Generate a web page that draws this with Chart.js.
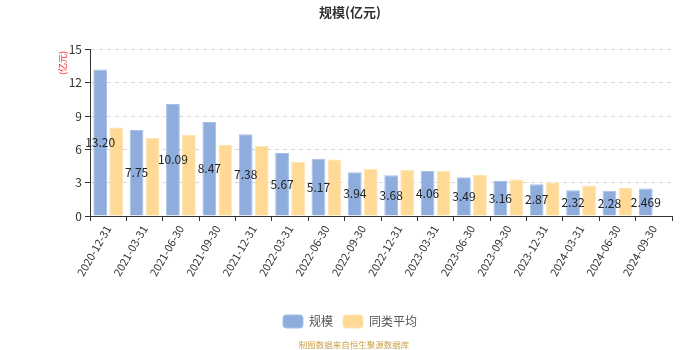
<!DOCTYPE html>
<html>
<head>
<meta charset="utf-8">
<script src="https://cdn.jsdelivr.net/npm/chart.js@4/dist/chart.umd.min.js"></script>
<style>
  body { margin: 0; background: #fff; }
  #wrap { width: 700px; height: 350px; }
</style>
</head>
<body>
<div id="wrap"><canvas id="scaleChart"></canvas></div>
<script>
// chart data
const dates = ['2020-12-31', '2021-03-31', '2021-06-30', '2021-09-30', '2021-12-31', '2022-03-31',
  '2022-06-30', '2022-09-30', '2022-12-31', '2023-03-31', '2023-06-30', '2023-09-30',
  '2023-12-31', '2024-03-31', '2024-06-30', '2024-09-30'];
// fund size, kept as text so the labels show the same digits
const scaleValues = ['13.20', '7.75', '10.09', '8.47', '7.38', '5.67', '5.17', '3.94',
  '3.68', '4.06', '3.49', '3.16', '2.87', '2.32', '2.28', '2.469'];
// peer average
const peerAvg = [7.98, 7.03, 7.31, 6.39, 6.30, 4.90, 5.09, 4.26,
  4.17, 4.08, 3.69, 3.29, 3.05, 2.74, 2.53, null];
const yTicks = [0, 3, 6, 9, 12, 15];

const cjk = '"Noto Sans CJK SC", "Noto Sans", sans-serif';

//labels in the middle of the blue bars + unit + source note
const extras = {
  id: 'extras',
  afterDatasetsDraw(chart) {
    const ctx = chart.ctx;
    const meta = chart.getDatasetMeta(0);
    ctx.save();
    ctx.font = '12px ' + cjk;
    ctx.fillStyle = '#222';
    ctx.textAlign = 'center';
    ctx.textBaseline = 'middle';
    meta.data.forEach((bar, i) => {
      ctx.fillText(scaleValues[i], bar.x, (bar.y + bar.base) / 2);
    });
    ctx.restore();
  },
  afterDraw(chart) {
    const ctx = chart.ctx;
    ctx.save();
    // unit of the y axis
    ctx.translate(63, 63);
    ctx.rotate(-Math.PI / 2);
    ctx.font = '9px ' + cjk;
    ctx.fillStyle = '#ff2a2a';
    ctx.textAlign = 'center';
    ctx.textBaseline = 'middle';
    ctx.fillText('(亿元)', 0, 0);
    ctx.restore();

    ctx.save();
    ctx.font = '8.5px ' + cjk;
    ctx.fillStyle = '#c9a14c';
    ctx.textAlign = 'center';
    ctx.textBaseline = 'middle';
    ctx.fillText('制图数据来自恒生聚源数据库', 354, 345);
    ctx.restore();
  }
};

let scaleChart = new Chart(document.getElementById('scaleChart'), {
  type: 'bar',
  data: {
    labels: dates,
    datasets: [{
      label: '规模',
      data: scaleValues,
      backgroundColor: '#8eaddc',
      borderColor: '#a8c0e6',
      borderWidth: 1,
      categoryPercentage: 0.88,
      barPercentage: 0.86
    }, {
      label: '同类平均',
      data: peerAvg,
      backgroundColor: '#ffda96',
      borderColor: '#ffe4b0',
      borderWidth: 1,
      categoryPercentage: 0.88,
      barPercentage: 0.86
    }]
  },
  options: {
    responsive: true,
    maintainAspectRatio: false,
    animation: false,
    layout: { padding: { left: 0, right: 0, top: 0, bottom: 12 } },
    scales: {
      x: {
        grid: { drawOnChartArea: false, tickLength: 5, tickColor: '#333', offset: true },
        border: { color: '#333' },
        ticks: {
          color: '#333',
          font: { size: 11, family: cjk },
          minRotation: 60,
          maxRotation: 60,
          padding: 2,
          autoSkip: false
        },
        afterFit: s => { s.height = 89; }
      },
      y: {
        min: 0,
        max: 15,
        afterBuildTicks: s => { s.ticks = yTicks.map(v => ({ value: v })); },
        grid: {
          color: '#d6d6d6',
          tickColor: '#333',
          tickLength: 5,
          tickBorderDash: [],
          drawTicks: true
        },
        border: { color: '#333', dash: [4, 4] },
        ticks: { color: '#333', font: { size: 12, family: cjk }, padding: 3 },
        afterFit: s => { s.width = 90; }
      },
      yRight: {
        position: 'right',
        display: true,
        ticks: { display: false },
        grid: { display: false },
        border: { display: false },
        afterFit: s => { s.width = 28; }
      }
    },
    plugins: {
      title: {
        display: true,
        text: '规模(亿元)',
        color: '#333',
        font: { size: 13, weight: 'bold', family: cjk },
        padding: { top: 4, bottom: 30 }
      },
      legend: {
        position: 'bottom',
        labels: {
          color: '#555',
          font: { size: 12, family: cjk },
          boxWidth: 20,
          boxHeight: 13,
          useBorderRadius: true,
          borderRadius: 3,
          padding: 10
        }
      },
      tooltip: { enabled: false }
    }
  },
  plugins: [extras]
});
</script>
</body>
</html>
